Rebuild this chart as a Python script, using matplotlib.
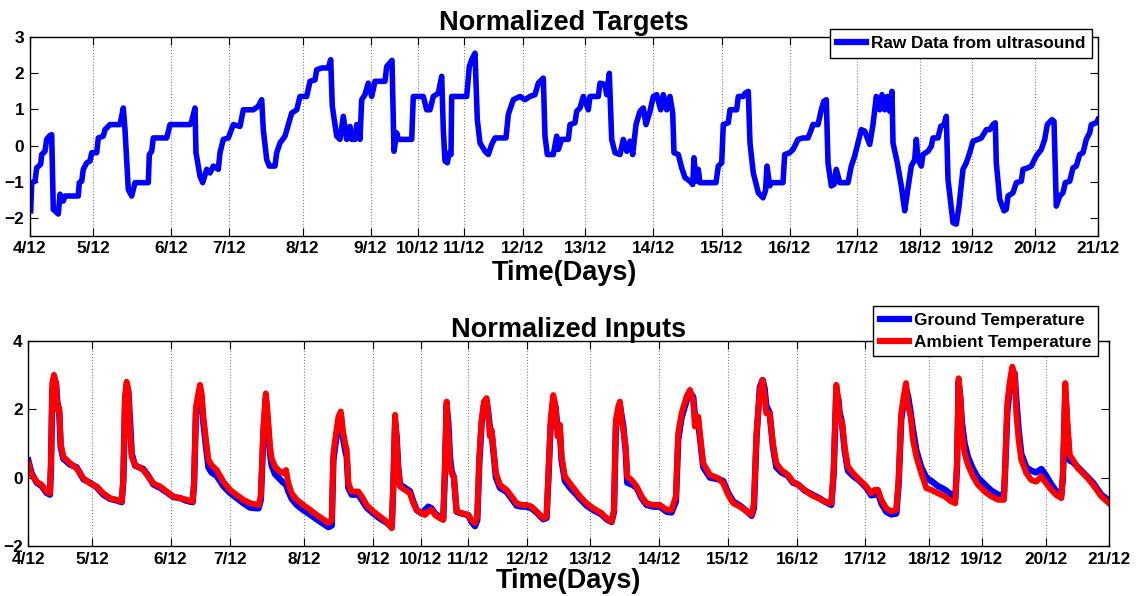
import matplotlib
matplotlib.use("Agg")
import matplotlib.pyplot as plt

plt.rcParams['font.family'] = ['Liberation Sans', 'DejaVu Sans']
plt.rcParams['font.weight'] = 'bold'

# x positions are in sample units along the record; ticks mark the day starts
day_ticks = [0, 63, 140.7, 199.3, 272.6, 340.5, 387.7, 434.4, 492.9, 555.2,
             623.3, 691.5, 759.9, 827.2, 890.4, 942.4, 1005.4, 1068]
day_labels = ['4/12', '5/12', '6/12', '7/12', '8/12', '9/12', '10/12', '11/12',
              '12/12', '13/12', '14/12', '15/12', '16/12', '17/12', '18/12',
              '19/12', '20/12', '21/12']

# normalized targets (ultrasound)
tgt_x = [0.7, 1.7, 5, 6.7, 10.7, 11.7, 15, 16.7, 20, 21.7, 23.3, 26.7, 28.3, 30, 33.3, 35,
         48.3, 49.3, 51.7, 53.3, 56.7, 60, 61.7, 66.7, 68.3, 73.3, 75, 78.3, 80, 90, 93.3,
         95, 98.3, 101.7, 105, 118.3, 119.3, 121.7, 123.3, 136.7, 140, 160, 161.7, 165,
         166, 170, 172.7, 176.7, 180, 183.3, 188.3, 190, 193.3, 198.3, 203.3, 210, 213.3,
         223.3, 228.3, 231.7, 233.3, 236.7, 239.3, 245, 246.7, 250, 255, 258.3, 261.7,
         266.7, 270, 276.7, 280, 285, 286.7, 291.7, 298.3, 300.7, 302.3, 306.7, 310, 313.3,
         316.7, 320, 321.7, 325, 326.7, 330, 331.7, 335, 338.3, 341.7, 345, 355, 356.7, 362,
         364, 366.7, 368.3, 381.7, 383.3, 393.3, 396.7, 400, 403.3, 408.3, 411.7, 413.3,
         415, 417.3, 419.3, 421, 421.7, 436.7, 439.3, 441.7, 445, 447.3, 450, 455, 458.3,
         461.7, 465, 476, 478.3, 483.3, 490, 495, 500, 505, 508.3, 513.3, 515, 517.3, 523.3,
         526.7, 528.3, 531.7, 538.3, 540, 545, 546.7, 550, 553.3, 558.3, 560, 568.3, 570,
         575, 576.7, 579.3, 581.7, 585, 590, 593.3, 596.7, 600, 602.7, 606, 610, 613.3, 616,
         620, 623.3, 626.7, 630.7, 633.3, 636.7, 640, 642.7, 644, 648.3, 651.7, 655, 660,
         662.7, 664, 666, 668.3, 670, 686, 688.3, 691.7, 693.3, 698.3, 700, 706.7, 708.3,
         713.3, 715, 718.3, 720, 723.3, 728.3, 733, 735.5, 737, 739.7, 741.3, 753, 754.7,
         759.7, 763, 764.7, 768, 773, 778, 781.3, 783, 788, 791.3, 793.7, 796.3, 798, 801.3,
         804, 806.3, 809.7, 818, 821.3, 824.7, 828, 831.3, 834.7, 839.7, 843, 846.3, 849.7,
         852, 854.7, 857.3, 859.7, 862, 863, 867.3, 871.3, 874.7, 877.3, 881.3, 884.7, 886.3,
         888, 891.3, 893, 898, 901.3, 903, 908, 910.7, 914, 916.3, 918, 920.7, 923, 926.3,
         929, 933, 936.3, 939.7, 943, 948, 951.3, 956.3, 959.7, 963, 965.3, 966.3, 969.7,
         974, 976.3, 978, 983, 986.3, 991.3, 993, 998, 1001.3, 1006.3, 1011.3, 1014.7,
         1017.3, 1022, 1024, 1026.3, 1029.7, 1033, 1035.3, 1039.7, 1043, 1046.3, 1049.7,
         1053, 1056.3, 1059.7, 1061.3, 1066.3, 1068]
tgt_y = [-1.81, -1.03, -0.99, -0.62, -0.52, -0.25, -0.16, 0.17, 0.28, 0.30, -1.77, -1.86,
         -1.9, -1.35, -1.54, -1.40, -1.40, -1.03, -0.99, -0.66, -0.48, -0.43, -0.2, -0.2,
         0.21, 0.26, 0.44, 0.53, 0.58, 0.58, 1.04, 0.44, -1.22, -1.40, -1.03, -1.03, -0.25,
         -0.16, 0.21, 0.21, 0.58, 0.58, 0.67, 1.04, -0.2, -0.85, -1.03, -0.66, -0.76, -0.57,
         -0.66, -0.2, 0.17, 0.21, 0.58, 0.53, 0.99, 0.99, 1.09, 1.27, 0.44, -0.39, -0.57,
         -0.57, -0.2, 0.07, 0.26, 0.58, 0.9, 0.99, 1.36, 1.36, 1.78, 1.82, 2.1, 2.15, 2.15,
         2.38, 1.09, 0.26, 0.17, 0.81, 0.17, 0.53, 0.17, 0.17, 0.58, 0.17, 1.27, 1.41, 1.73,
         1.36, 1.78, 1.78, 2.19, 2.36, -0.16, 0.35, 0.17, 0.17, 1.36, 1.36, 0.99, 0.99, 1.36,
         1.45, 1.92, 0.44, -0.43, -0.48, -0.2, -0.25, 1.36, 1.36, 2.19, 2.38, 2.56, 0.72,
         0.07, -0.16, -0.25, 0.03, 0.21, 0.21, 0.86, 1.27, 1.36, 1.27, 1.36, 1.41, 1.73, 1.87,
         0.26, -0.25, -0.25, 0.26, -0.11, 0.17, 0.17, 0.58, 0.63, 0.95, 1.04, 1.36, 0.99,
         1.36, 1.36, 1.73, 1.69, 1.41, 2.0, 0.17, -0.2, -0.25, 0.17, -0.16, 0.12, -0.25, 0.58,
         0.95, 1.04, 0.58, 0.95, 1.36, 1.41, 0.99, 1.41, 0.99, 1.36, 0.9, -0.2, -0.25, -0.62,
         -0.89, -0.99, -1.08, -0.34, -0.99, -0.66, -1.03, -1.03, -0.57, -0.48, 0.58, 0.63,
         0.99, 0.99, 1.36, 1.36, 1.45, 1.50, 0.07, -0.76, -1.31, -1.45, -1.25, -0.57, -1.12,
         -1.03, -1.03, -0.25, -0.2, -0.11, -0.02, 0.17, 0.21, 0.21, 0.44, 0.58, 0.58, 0.99,
         1.22, 1.27, -0.48, -1.12, -1.08, -0.66, -1.03, -1.03, -0.57, -0.29, 0.07, 0.44, 0.40,
         0.03, 0.58, 1.36, 0.99, 1.41, 0.99, 1.36, 0.95, 1.50, 0.07, -0.48, -1.12, -1.81,
         -1.31, -0.57, -0.39, 0.17, -0.39, -0.57, -0.25, -0.16, -0.02, 0.21, 0.21, 0.53,
         0.58, 0.81, -0.94, -1.58, -2.14, -2.18, -1.68, -0.66, -0.48, -0.2, 0.12, 0.17, 0.21,
         0.44, 0.44, 0.58, 0.63, -0.48, -1.49, -1.81, -1.77, -1.40, -1.31, -1.03, -0.99,
         -0.66, -0.62, -0.57, -0.29, -0.11, 0.17, 0.58, 0.72, 0.67, -1.68, -1.40, -1.31,
         -1.03, -0.99, -0.62, -0.57, -0.25, -0.2, 0.17, 0.35, 0.58, 0.63, 0.72]

# normalized inputs (ground and ambient temperature)
inp_x = [0, 3.3, 8.3, 13.2, 18.1, 21.4, 22.4, 23.7, 25.4, 27.4, 28.7, 30.6, 32, 34.6, 41.2,
         47.8, 54.4, 61, 67.5, 74.1, 80.7, 87.3, 92.3, 93.9, 95.6, 97.2, 98.9, 100.5, 102.2,
         105.5, 113.7, 118.6, 123.6, 130.2, 136.8, 143.4, 150, 156.5, 162.4, 163.8, 165.7,
         168, 169.7, 171.3, 173, 175.6, 178, 181, 186.2, 192.8, 199.4, 206, 212.6, 219.2,
         227.5, 229.8, 232.4, 234.7, 236.3, 238.9, 240.5, 243.8, 248.8, 252, 254.7, 257,
         260.3, 265.3, 271.8, 278.4, 285, 290, 296.6, 299.9, 301.5, 303.2, 306.5, 308.8,
         310.8, 313.1, 314.7, 316.3, 319.6, 326.2, 329.5, 334.4, 341, 347.6, 354.2, 359.2,
         360.8, 362.5, 364, 365.6, 367.3, 372.2, 377.2, 380.5, 383.8, 388.7, 392, 395.3,
         398.6, 401.9, 406.8, 410.1, 411.8, 413.4, 415.1, 416.7, 418.3, 420.6, 423.3, 428.2,
         434.8, 438.1, 441.4, 443.7, 445.7, 448, 450.3, 452.9, 454.6, 456.2, 457.9, 459.5,
         462.1, 466.1, 472.7, 477.6, 482.6, 487.5, 492.5, 497.4, 502.3, 508.9, 512.2, 513.9,
         516.2, 518.8, 521.1, 523.1, 525.4, 527, 530.3, 535.3, 540.2, 545.2, 551.7, 558.3,
         566.6, 571.5, 576.4, 578.8, 580.7, 583, 584.7, 586.3, 588, 590.3, 591.9, 596.2,
         601.2, 606.1, 611, 617.6, 624.2, 630.8, 635.7, 640, 642.3, 645.6, 650.6, 653.9,
         657.2, 658.8, 662.1, 664.4, 667, 673.6, 681.9, 686.8, 691.7, 696.7, 703.3, 709.9,
         714.8, 717.1, 719.7, 723, 725.7, 727.7, 729.3, 732.6, 735.9, 739.2, 744.2, 750.7,
         755.7, 760.6, 767.2, 773.8, 780.4, 787, 793.6, 795.9, 798.5, 800.5, 801.8, 804.1,
         806.7, 810, 815, 821.6, 828.2, 833.1, 836.4, 839.7, 843, 847.9, 852.9, 857.8, 860.1,
         862.7, 865.1, 867.4, 869.3, 872, 874.3, 877.6, 882.5, 887.5, 892.4, 899, 905.6,
         912.2, 916.1, 917.8, 919.4, 921.1, 922.7, 925.3, 928.6, 933.6, 938.5, 945.1, 951.7,
         958.3, 964.2, 965.5, 967.5, 969.8, 972.4, 974.7, 976.4, 978.7, 981.3, 986.3, 991.2,
         996.1, 1001.1, 1006, 1011, 1015.9, 1020.9, 1022.5, 1024.8, 1026.8, 1029.1, 1032.4,
         1037.3, 1045.6, 1052.2, 1060.4, 1068]
ambient = [0.42, 0.08, -0.12, -0.21, -0.41, -0.46, 0.42, 2.76, 3.0, 2.76, 1.98, 2.03, 1.0,
           0.61, 0.42, 0.27, -0.02, -0.17, -0.26, -0.46, -0.6, -0.65, -0.7, -0.07, 2.37, 2.8,
           2.56, 1.39, 0.61, 0.37, 0.22, 0.03, -0.17, -0.26, -0.41, -0.55, -0.6, -0.65, -0.7,
           -0.17, 2.07, 2.46, 2.71, 2.46, 1.78, 1.1, 0.52, 0.37, 0.22, -0.12, -0.36, -0.51,
           -0.65, -0.75, -0.8, -0.55, 1.49, 2.46, 1.98, 0.91, 0.56, 0.32, 0.17, 0.13, 0.22,
           -0.17, -0.46, -0.65, -0.8, -0.94, -1.09, -1.19, -1.33, -1.24, 0.71, 1.1, 1.78, 1.93,
           1.39, 1.0, 0.81, -0.17, -0.41, -0.41, -0.55, -0.8, -0.99, -1.14, -1.29, -1.48,
           -0.07, 1.83, 1.1, 0.22, -0.26, -0.36, -0.46, -0.75, -0.94, -1.04, -1.09, -0.99,
           -0.94, -1.09, -1.19, -1.24, 0.42, 2.22, 1.3, 0.32, 0.13, 0.03, -0.99, -1.04, -1.09,
           -1.24, -1.33, -1.14, 0.61, 1.68, 2.22, 2.32, 1.78, 1.2, 1.39, 0.91, 0.13, -0.21,
           -0.36, -0.55, -0.75, -0.8, -0.8, -0.85, -0.99, -1.19, -1.14, 0.03, 1.68, 2.41, 2.07,
           1.2, 1.54, 0.61, 0.03, -0.17, -0.36, -0.55, -0.75, -0.9, -1.04, -1.19, -1.29, -0.94,
           1.68, 2.07, 2.22, 1.68, 1.39, 0.91, 0.03, -0.07, -0.26, -0.55, -0.75, -0.8, -0.8,
           -0.94, -0.94, -0.55, 1.3, 1.88, 2.37, 2.56, 2.22, 1.49, 1.78, 1.1, 0.42, 0.08, -0.02,
           -0.17, -0.51, -0.75, -0.85, -0.99, -1.09, -0.75, 1.3, 2.56, 2.85, 2.37, 1.88, 1.88,
           1.0, 0.42, 0.22, 0.08, -0.12, -0.21, -0.36, -0.51, -0.6, -0.7, -0.75, 0.22, 2.71,
           2.27, 1.68, 1.64, 0.91, 0.32, 0.13, -0.07, -0.26, -0.46, -0.36, -0.36, -0.65, -0.9,
           -0.99, -0.94, -0.07, 1.88, 2.37, 2.76, 2.12, 1.78, 1.1, 0.61, 0.13, -0.31, -0.36,
           -0.46, -0.55, -0.7, -0.75, 0.42, 2.9, 2.37, 1.3, 0.71, 0.37, 0.03, -0.21, -0.41,
           -0.55, -0.65, -0.65, 0.42, 2.17, 2.76, 3.24, 3.0, 1.88, 1.1, 0.52, 0.13, -0.07,
           -0.12, 0.03, -0.17, -0.36, -0.51, -0.6, 0.13, 2.76, 1.68, 0.66, 0.52, 0.27, 0.03,
           -0.21, -0.55, -0.75]
ground = [0.5, 0.12, -0.15, -0.25, -0.45, -0.5, 0.3, 2.5, 2.9, 2.75, 2.2, 1.9, 0.9, 0.55,
          0.38, 0.3, -0.05, -0.15, -0.28, -0.5, -0.62, -0.67, -0.72, -0.1, 2.2, 2.7, 2.5, 1.7,
          0.7, 0.35, 0.25, 0.05, -0.2, -0.3, -0.43, -0.57, -0.6, -0.68, -0.72, -0.2, 1.9, 2.3,
          2.6, 2.2, 1.6, 0.9, 0.3, 0.15, 0.05, -0.25, -0.45, -0.6, -0.75, -0.88, -0.9, -0.65,
          1.3, 2.3, 1.7, 0.7, 0.35, 0.1, -0.05, -0.15, -0.2, -0.4, -0.62, -0.8, -0.95, -1.08,
          -1.22, -1.32, -1.45, -1.4, 0.5, 0.9, 1.6, 1.85, 1.2, 0.8, 0.6, -0.3, -0.5, -0.5,
          -0.65, -0.88, -1.05, -1.2, -1.32, -1.45, -0.2, 1.6, 1.2, 0.3, -0.2, -0.3, -0.4, -0.7,
          -0.95, -1.05, -0.95, -0.85, -0.9, -1.05, -1.15, -1.2, 0.2, 2.1, 1.6, 0.6, 0.2, 0.0,
          -1.0, -1.05, -1.1, -1.3, -1.42, -1.25, 0.4, 1.6, 2.1, 2.25, 1.9, 1.45, 1.3, 0.8, 0.0,
          -0.3, -0.42, -0.62, -0.82, -0.85, -0.85, -0.9, -1.02, -1.22, -1.18, -0.1, 1.5, 2.3,
          2.05, 1.4, 1.3, 0.5, -0.1, -0.3, -0.45, -0.62, -0.82, -0.95, -1.08, -1.22, -1.3, -1.0,
          1.5, 1.9, 2.1, 1.8, 1.5, 0.8, -0.15, -0.2, -0.3, -0.6, -0.8, -0.85, -0.85, -1.0,
          -1.02, -0.7, 1.1, 1.75, 2.25, 2.5, 2.35, 1.8, 1.6, 1.0, 0.3, 0.0, -0.05, -0.1, -0.45,
          -0.7, -0.82, -0.98, -1.12, -0.9, 1.2, 2.65, 2.85, 2.6, 2.1, 1.9, 0.9, 0.3, 0.15, 0.05,
          -0.15, -0.2, -0.38, -0.48, -0.58, -0.7, -0.8, 0.1, 2.5, 2.3, 1.9, 1.6, 0.8, 0.2, 0.05,
          -0.1, -0.3, -0.52, -0.5, -0.45, -0.75, -1.0, -1.08, -1.05, -0.2, 1.7, 2.2, 2.6, 2.4,
          1.9, 1.4, 0.8, 0.3, 0.0, -0.1, -0.25, -0.35, -0.5, -0.6, 0.3, 2.8, 2.3, 1.6, 1.0, 0.6,
          0.25, 0.0, -0.2, -0.38, -0.5, -0.52, 0.3, 1.9, 2.6, 3.1, 3.05, 2.3, 1.4, 0.7, 0.3,
          0.2, 0.15, 0.25, 0.05, -0.2, -0.4, -0.52, 0.0, 2.5, 1.4, 0.5, 0.45, 0.3, 0.05, -0.15,
          -0.5, -0.68]

W, H = 1138, 596
fig = plt.figure(figsize=(W / 100, H / 100), dpi=100)
ax1 = fig.add_axes([30 / W, 1 - 235.7 / H, 1068 / W, 198.4 / H])
ax2 = fig.add_axes([28.3 / W, 1 - 546 / H, 1080.7 / W, 205.3 / H])

ax1.plot(tgt_x, tgt_y, color=(0, 0, 1), lw=4.0, label='Raw Data from ultrasound')
ax2.plot(inp_x, ground, color=(0, 0, 1), lw=4.6, label='Ground Temperature')
ax2.plot(inp_x, ambient, color=(1, 0, 0), lw=4.3, label='Ambient Temperature')

ax1.set_ylim(-2.5, 3)
ax1.set_yticks([-2, -1, 0, 1, 2, 3])
ax2.set_ylim(-2, 4)
ax2.set_yticks([-2, 0, 2, 4])

for ax, title, pad, lpad in [(ax1, 'Normalized Targets', 5.5, 2.5),
                             (ax2, 'Normalized Inputs', 3, 1.0)]:
    ax.set_xlim(0, 1068)
    ax.set_xticks(day_ticks)
    ax.set_xticklabels(day_labels)
    ax.grid(True, axis='x', linestyle=':', color='#808080', linewidth=0.8)
    ax.tick_params(direction='in', length=6, width=0.8, top=True, right=True,
                   labelsize=12.4, pad=4)
    for lab in ax.get_xticklabels() + ax.get_yticklabels():
        lab.set_fontweight('bold')
    for sp in ax.spines.values():
        sp.set_linewidth(1.0)
    ax.set_title(title, fontsize=19.5, fontweight='bold', pad=pad)
    ax.set_xlabel('Time(Days)', fontsize=19.5, fontweight='bold', labelpad=lpad)

leg_kw = dict(fontsize=12.4, fancybox=False, framealpha=1, edgecolor='black',
              handlelength=1.7, handletextpad=0.25, borderpad=0.4, labelspacing=0.38,
              borderaxespad=0)
l1 = ax1.legend(loc='upper right', bbox_to_anchor=(1092 / W, 1 - 29 / H),
                bbox_transform=fig.transFigure, **leg_kw)
l2 = ax2.legend(loc='upper right', bbox_to_anchor=(1098 / W, 1 - 306 / H),
                bbox_transform=fig.transFigure, **leg_kw)
for leg in (l1, l2):
    leg.get_frame().set_linewidth(1.0)
    for t in leg.get_texts():
        t.set_fontweight('bold')
    for h in leg.get_lines():
        h.set_linewidth(4.5)

fig.savefig('out.png', dpi=100)
